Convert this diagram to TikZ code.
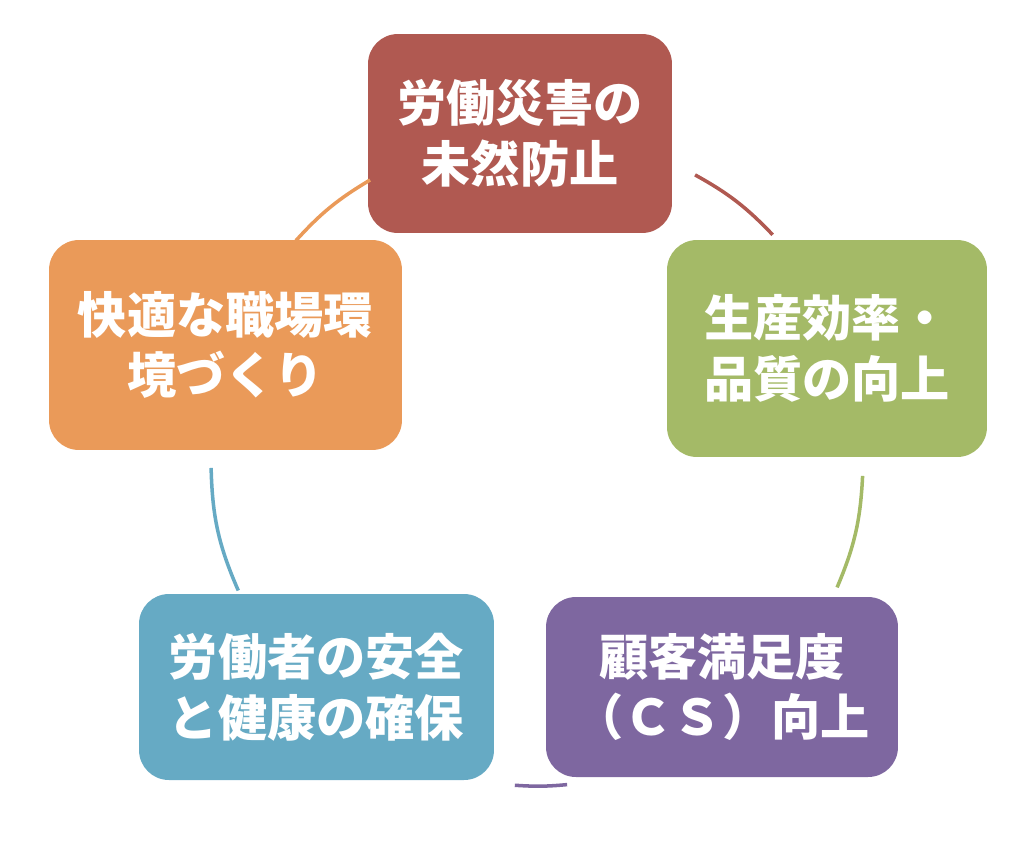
\documentclass[tikz,border=0pt]{standalone}
\usepackage{fontspec}
\setmainfont{Noto Sans CJK JP}
\usepackage{xcolor}
\definecolor{BoxRed}{RGB}{176,89,81}
\definecolor{BoxGreen}{RGB}{164,186,103}
\definecolor{BoxPurple}{RGB}{126,103,160}
\definecolor{BoxBlue}{RGB}{102,170,196}
\definecolor{BoxOrange}{RGB}{234,154,89}
\usepackage{tikz}
\usetikzlibrary{calc}
\tikzset{
  % Cycle step box
  cbox/.style={
    rectangle, rounded corners=17pt,
    draw=none, fill=#1,
    align=center, text=white,
    font=\fontsize{28}{34.5}\selectfont\bfseries,
    inner sep=0pt
  },
  % Arc between two steps
  carc/.style={draw=#1, line width=2pt}
}

\begin{document}
\begin{tikzpicture}[x=0.02cm, y=0.02cm]

  \useasboundingbox (0,0) rectangle (1024,-850);

  %% Steps
  \node[cbox=BoxRed, minimum width=6.08cm, minimum height=3.98cm]
    (prevent) at (520,-133.5) {労働災害の\\未然防止};
  \node[cbox=BoxGreen, minimum width=6.4cm, minimum height=4.34cm]
    (quality) at (827,-348.5) {生産効率・\\品質の向上};
  \node[cbox=BoxPurple, minimum width=7.04cm, minimum height=3.6cm]
    (custsat) at (722,-687) {顧客満足度\\（ＣＳ）向上};
  \node[cbox=BoxBlue, minimum width=7.1cm, minimum height=3.72cm]
    (safety) at (316.5,-687) {労働者の安全\\と健康の確保};
  \node[cbox=BoxOrange, minimum width=7.06cm, minimum height=4.2cm]
    (comfort) at (225.5,-345) {快適な職場環\\境づくり};

  %% Arc end points on the cycle
  \coordinate (hub) at (537,-460);
  \coordinate (r1) at ($(hub)+(61:326)$);
  \coordinate (r2) at ($(hub)+(43.7:326)$);
  \coordinate (g1) at ($(hub)+(-2.8:326)$);
  \coordinate (g2) at ($(hub)+(-23:326)$);
  \coordinate (p1) at ($(hub)+(-84.7:326)$);
  \coordinate (p2) at ($(hub)+(-93.9:326)$);
  \coordinate (b1) at ($(hub)+(203.6:326)$);
  \coordinate (b2) at ($(hub)+(181.4:326)$);
  \coordinate (o1) at ($(hub)+(137.7:326)$);
  \coordinate (o2) at ($(hub)+(120.8:326)$);

  %% Arcs
  \draw[carc=BoxRed] (r1) to[bend left=8.7] (r2);
  \draw[carc=BoxGreen] (g1) to[bend left=10.1] (g2);
  \draw[carc=BoxPurple] (p1) to[bend left=4.6] (p2);
  \draw[carc=BoxBlue] (b1) to[bend left=11.1] (b2);
  \draw[carc=BoxOrange] (o1) to[bend left=8.5] (o2);

\end{tikzpicture}
\end{document}
